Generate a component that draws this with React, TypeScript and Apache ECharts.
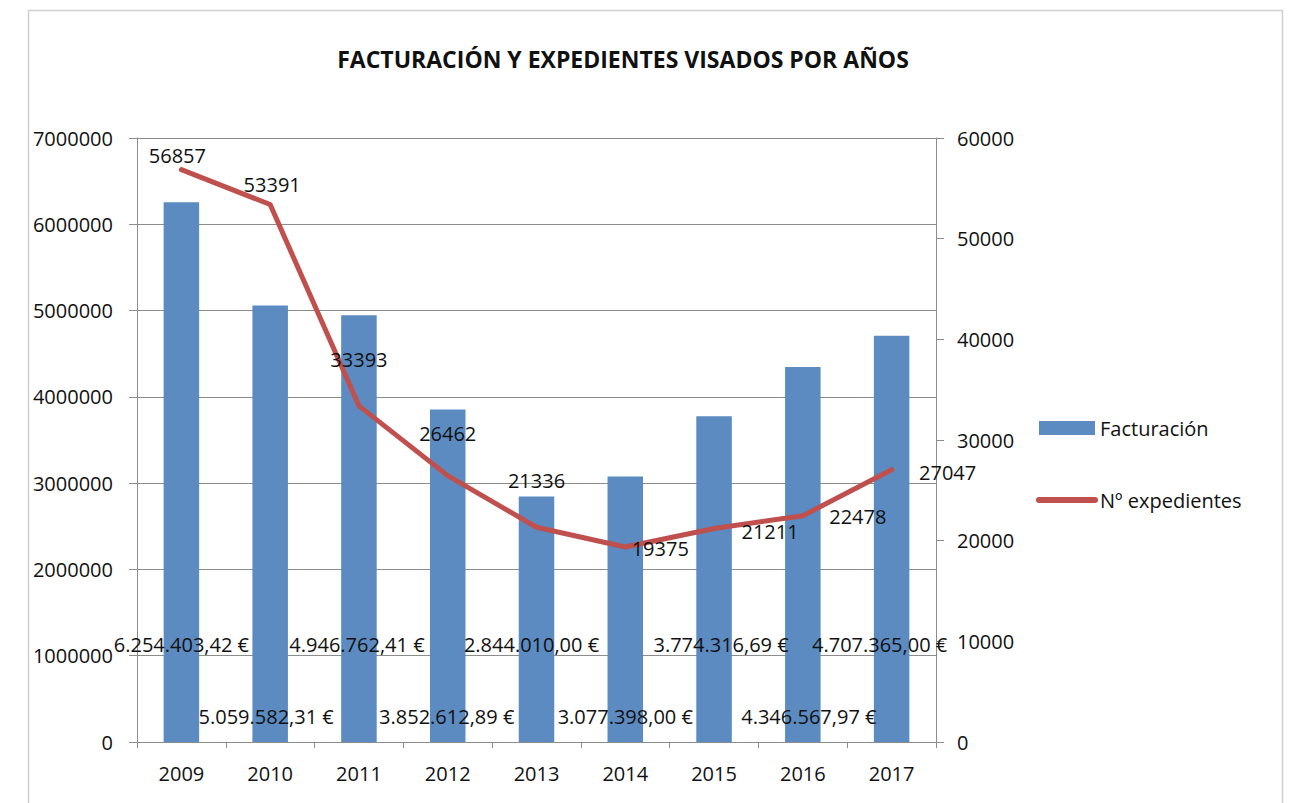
import React, { useEffect, useRef } from "react";
import * as echarts from "echarts";

const years = ["2009", "2010", "2011", "2012", "2013", "2014", "2015", "2016", "2017"];
const facturacion = [6254403.42, 5059582.31, 4946762.41, 3852612.89, 2844010.0, 3077398.0, 3774316.69, 4346567.97, 4707365.0];
const expedientes = [56857, 53391, 33393, 26462, 21336, 19375, 21211, 22478, 27047];

// label layout (styling only)
const barLabelDistance = [88, 16, 88, 16, 88, 16, 88, 16, 88];
const barLabelShiftX = [0, -4, -2, -1, -5, 0, 7, 6, -12];
const lineLabelOffset: [number, number][] = [
  [-4, -14], [2, -20], [0, -46], [0, -42], [0, -47], [35, 2], [56, 3], [55, 1], [56, 3],
];

const FONT = "'Open Sans', 'Noto Sans', sans-serif";
const GRAY = "#8c8c8c";
const FS = 20;

function formatEuro(v: number): string {
  const [intPart, dec] = v.toFixed(2).split(".");
  const withDots = intPart.replace(/\B(?=(\d{3})+(?!\d))/g, ".");
  return `${withDots},${dec} €`;
}

export default function App() {
  const ref = useRef<HTMLDivElement>(null);
  useEffect(() => {
    document.body.style.margin = "0";
    const chart = echarts.init(ref.current!, null, { renderer: "svg" });
    chart.setOption({
      animation: false,
      backgroundColor: "#ffffff",
      textStyle: { fontFamily: FONT },
      title: {
        text: "FACTURACIÓN Y EXPEDIENTES VISADOS POR AÑOS",
        left: 623,
        textAlign: "center",
        top: 47,
        padding: 0,
        textStyle: { fontFamily: FONT, fontSize: 23, fontWeight: "bold", color: "#111" },
      },
      graphic: [
        {
          type: "rect",
          shape: { x: 28.5, y: 10.5, width: 1254, height: 820 },
          style: { fill: "none", stroke: "#d0d0d0", lineWidth: 1.5 },
          silent: true,
          z: -10,
        },
      ],
      legend: {
        orient: "vertical",
        left: 1036,
        top: 418,
        padding: 0,
        itemWidth: 56,
        itemHeight: 14,
        itemGap: 52,
        textStyle: { fontFamily: FONT, fontSize: FS, color: "#111" },
        data: [
          { name: "Facturación", icon: "rect" },
          {
            name: "Nº expedientes",
            itemStyle: { opacity: 0 },
            lineStyle: { width: 6, cap: "round", color: "#c0504d" },
          },
        ],
      },
      grid: { left: 137, right: 357, top: 138, bottom: 61, containLabel: false },
      xAxis: {
        type: "category",
        data: years,
        boundaryGap: true,
        axisLine: { lineStyle: { color: GRAY, width: 1 } },
        axisTick: { show: true, alignWithLabel: false, length: 6, lineStyle: { color: GRAY } },
        axisLabel: { color: "#111", fontSize: FS, fontFamily: FONT, margin: 21 },
      },
      yAxis: [
        {
          type: "value",
          min: 0,
          max: 7000000,
          interval: 1000000,
          axisLine: { show: true, lineStyle: { color: GRAY } },
          axisTick: { show: true, length: 8, lineStyle: { color: GRAY } },
          axisLabel: { color: "#111", fontSize: FS, fontFamily: FONT, margin: 24, formatter: (v: number) => String(v) },
          splitLine: { show: true, lineStyle: { color: GRAY, width: 1 } },
        },
        {
          type: "value",
          min: 0,
          max: 60000,
          interval: 10000,
          position: "right",
          axisLine: { show: true, lineStyle: { color: GRAY } },
          axisTick: { show: true, length: 8, lineStyle: { color: GRAY } },
          axisLabel: { color: "#111", fontSize: FS, fontFamily: FONT, margin: 21, formatter: (v: number) => String(v) },
          splitLine: { show: false },
        },
      ],
      series: [
        {
          name: "Facturación",
          type: "bar",
          yAxisIndex: 0,
          barWidth: "40%",
          itemStyle: { color: "#5b8bc1" },
          data: facturacion.map((v, i) => ({
            value: v,
            label: {
              show: true,
              position: "insideBottom",
              distance: barLabelDistance[i],
              offset: [barLabelShiftX[i], 0],
              formatter: () => formatEuro(v),
              color: "#111",
              fontSize: FS,
              fontFamily: FONT,
            },
          })),
          z: 2,
        },
        {
          name: "Nº expedientes",
          type: "line",
          yAxisIndex: 1,
          symbol: "circle",
          symbolSize: 0,
          showSymbol: true,
          lineStyle: { color: "#c0504d", width: 5, cap: "round", join: "round" },
          itemStyle: { color: "#c0504d" },
          data: expedientes.map((v, i) => ({
            value: v,
            label: {
              show: true,
              position: "inside",
              offset: lineLabelOffset[i],
              color: "#111",
              fontSize: FS,
              fontFamily: FONT,
            },
          })),
          z: 3,
        },
      ],
    });
    return () => chart.dispose();
  }, []);
  return <div ref={ref} style={{ width: 1293, height: 803 }} />;
}
